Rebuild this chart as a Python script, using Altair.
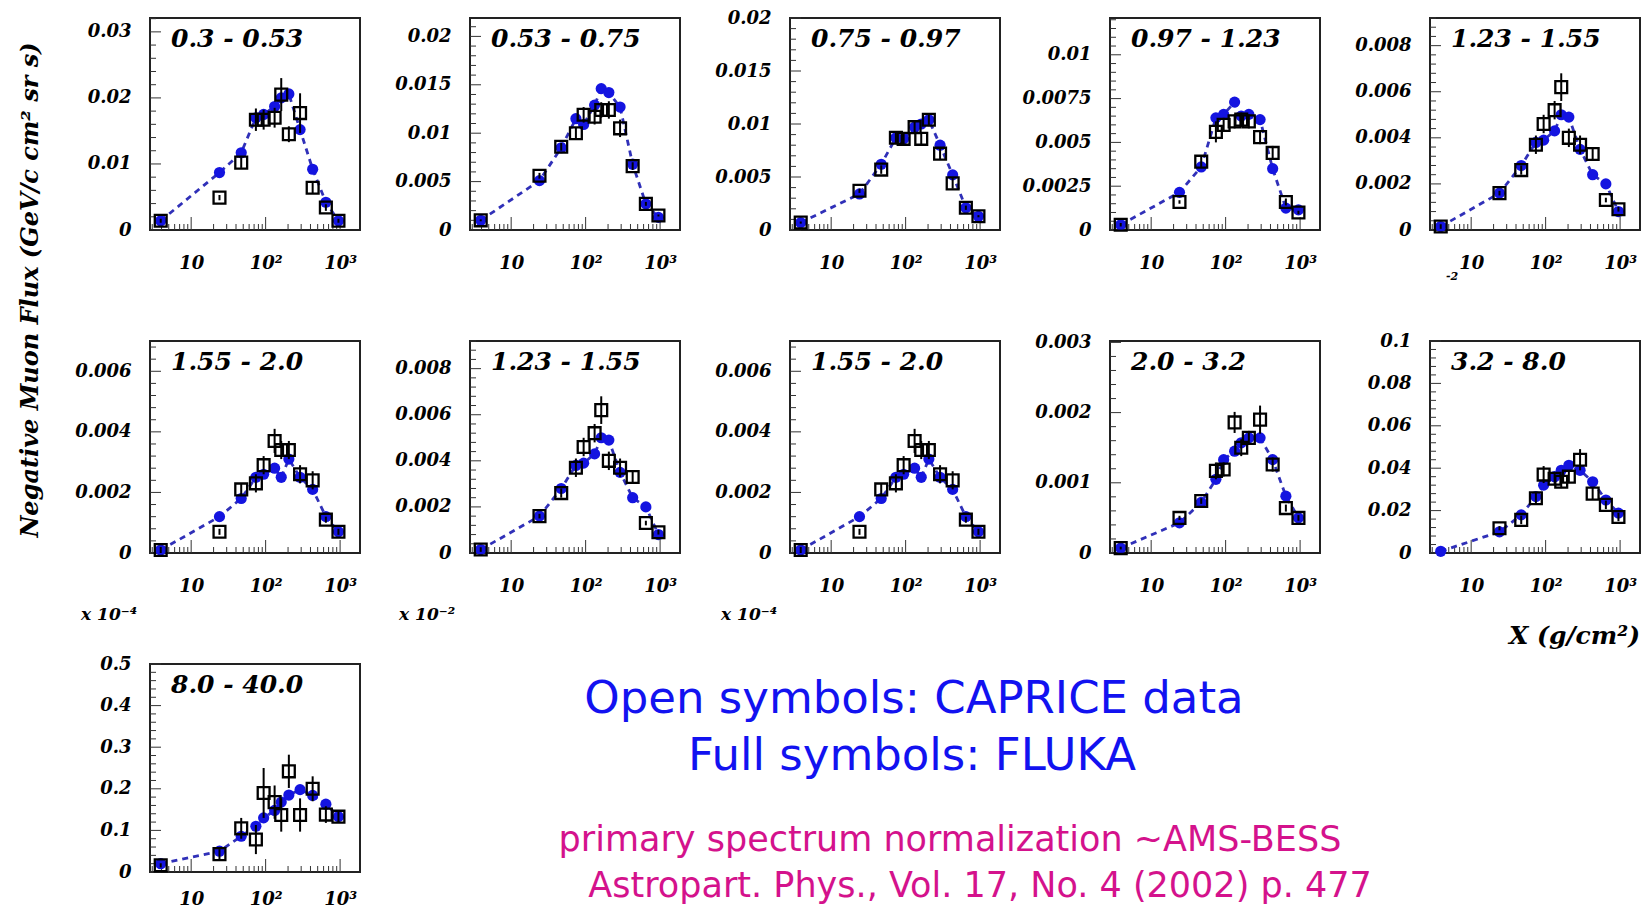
import altair as alt
import pandas as pd

# ---------------- data ----------------
X_GRID = [3.9, 24, 47, 74, 94, 132, 162, 205, 290, 428, 644, 950]

panel_labels = ["0.3 - 0.53", "0.53 - 0.75", "0.75 - 0.97", "0.97 - 1.23", "1.23 - 1.55",
                "1.55 - 2.0", "1.23 - 1.55", "1.55 - 2.0", "2.0 - 3.2", "3.2 - 8.0", "8.0 - 40.0"]
y_top = [0.0321, 0.0219, 0.0200, 0.0121, 0.0092, 0.0070, 0.0092, 0.0070, 0.00302, 0.100, 0.500]
y_step = [0.01, 0.005, 0.005, 0.0025, 0.002, 0.002, 0.002, 0.002, 0.001, 0.02, 0.1]

fluka_p1 = [0.0014, 0.0087, 0.0117, 0.0170, 0.0175, 0.0187, 0.0200, 0.0206, 0.0152, 0.0092, 0.0042, 0.0014]
caprice_p1 = [0.0014, 0.0049, 0.0102, 0.0167, 0.0167, 0.0170, 0.0205, 0.0145, 0.0177, 0.0064, 0.0034, 0.0014]
err_p1 = [0.0003, 0.0004, 0.0008, 0.0017, 0.0015, 0.0015, 0.0025, 0.0012, 0.0030, 0.0008, 0.0005, 0.0003]

fluka_p2 = [0.0010, 0.0051, 0.0085, 0.0115, 0.0109, 0.0129, 0.0146, 0.0142, 0.0127, 0.0068, 0.0027, 0.0013]
caprice_p2 = [0.0010, 0.0056, 0.0086, 0.0100, 0.0119, 0.0117, 0.0124, 0.0124, 0.0105, 0.0066, 0.0027, 0.0015]
err_p2 = [0.0001, 0.0003, 0.0004, 0.0006, 0.0008, 0.0008, 0.0008, 0.0009, 0.0009, 0.0004, 0.0002, 0.0001]

fluka_p3 = [0.0007, 0.0034, 0.0062, 0.0087, 0.0086, 0.0097, 0.0100, 0.0104, 0.0080, 0.0052, 0.0021, 0.0013]
caprice_p3 = [0.0007, 0.0037, 0.0057, 0.0087, 0.0086, 0.0097, 0.0086, 0.0104, 0.0072, 0.0044, 0.0021, 0.0013]
err_p3 = [0.0001, 0.0002, 0.0004, 0.0006, 0.0006, 0.0006, 0.0006, 0.0006, 0.0006, 0.0005, 0.0002, 0.0001]

fluka_p4 = [0.0003, 0.00215, 0.0036, 0.0064, 0.0066, 0.0073, 0.0065, 0.0066, 0.0063, 0.0035, 0.00125, 0.00115]
caprice_p4 = [0.0003, 0.0016, 0.0039, 0.0056, 0.0060, 0.0062, 0.0063, 0.0062, 0.0053, 0.0044, 0.0016, 0.0010]
err_p4 = [0.0001, 0.0001, 0.0003, 0.0006, 0.0004, 0.0004, 0.0004, 0.0004, 0.0004, 0.0004, 0.0002, 0.0001]

fluka_p5 = [0.00015, 0.0016, 0.0028, 0.0038, 0.0039, 0.0043, 0.0050, 0.0049, 0.0035, 0.0024, 0.0020, 0.0008]
caprice_p5 = [0.00015, 0.0016, 0.0026, 0.0037, 0.0046, 0.0052, 0.0062, 0.0040, 0.0037, 0.0033, 0.0013, 0.0009]
err_p5 = [0.0001, 0.0001, 0.0002, 0.0004, 0.0004, 0.0004, 0.0006, 0.0004, 0.0004, 0.0003, 0.0001, 0.0001]

fluka_p6 = [0.0001, 0.0012, 0.0018, 0.0025, 0.0026, 0.0028, 0.0025, 0.0031, 0.0025, 0.0021, 0.0012, 0.0007]
caprice_p6 = [0.0001, 0.0007, 0.0021, 0.0023, 0.0029, 0.0037, 0.0034, 0.0034, 0.0026, 0.0024, 0.0011, 0.0007]
err_p6 = [0.0001, 0.0001, 0.0002, 0.0003, 0.0003, 0.0004, 0.0003, 0.0003, 0.0003, 0.0003, 0.0001, 0.0001]

fluka_p9 = [0.00007, 0.00043, 0.00072, 0.00105, 0.00133, 0.00145, 0.00157, 0.00164, 0.00164, 0.00133, 0.00081, 0.0005]
caprice_p9 = [0.00007, 0.0005, 0.00074, 0.00117, 0.00119, 0.00186, 0.0015, 0.00164, 0.0019, 0.00126, 0.00064, 0.0005]
err_p9 = [0.00002, 0.00003, 0.00004, 0.00012, 0.0001, 0.00015, 0.00012, 0.0001, 0.0002, 0.0001, 0.00005, 0.00004]

fluka_p10 = [0.0008, 0.010, 0.018, 0.0266, 0.032, 0.036, 0.039, 0.0414, 0.039, 0.0336, 0.025, 0.0188]
caprice_p10 = [None, 0.0117, 0.0156, 0.0258, 0.037, 0.035, 0.0336, 0.036, 0.044, 0.028, 0.0227, 0.017]
err_p10 = [0.0, 0.001, 0.002, 0.003, 0.004, 0.003, 0.003, 0.003, 0.005, 0.003, 0.002, 0.002]

fluka_p11 = [0.02, 0.05, 0.086, 0.11, 0.13, 0.148, 0.168, 0.185, 0.198, 0.184, 0.163, 0.133]
caprice_p11 = [0.016, 0.043, 0.105, 0.078, 0.19, 0.168, 0.137, 0.242, 0.137, 0.2, 0.138, 0.133]
err_p11 = [0.005, 0.012, 0.025, 0.035, 0.06, 0.04, 0.04, 0.04, 0.04, 0.03, 0.02, 0.015]

# ---------------- styling ----------------
FONT_AX = "DejaVu Serif"
FONT_NOTE = "DejaVu Sans"
BLUE_PT = "#1414e0"
BLUE_LINE = "#3030b8"
BLUE_TXT = "#1212f0"
PINK_TXT = "#d4128c"
W, H = 210, 212

X_DOMAIN = [2.8, 1850]
x_major = [10, 100, 1000]
x_minor = [m * 10 ** k for k in range(0, 4) for m in range(2, 10) if X_DOMAIN[0] <= m * 10 ** k <= X_DOMAIN[1]]


def text_layer(t, x, y, size, color="black", font=FONT_AX, align="left",
               angle=0, weight="bold", style="italic", baseline="alphabetic"):
    kw = dict(align=align, baseline=baseline, font=font, fontSize=size,
              fontWeight=weight, fontStyle=style, color=color)
    if angle:
        kw["angle"] = angle
    return alt.Chart(pd.DataFrame({"t": [t]})).mark_text(**kw).encode(
        text="t:N", x=alt.value(x), y=alt.value(y))


def make_panel(idx, fluka, caprice, err, h=H, extras=(), xlabel_pad=24):
    top = y_top[idx]
    step = y_step[idx]
    df = pd.DataFrame({"X": X_GRID, "fluka": fluka, "caprice": caprice, "err": err})
    df["caprice"] = df["caprice"].astype(float)
    df["lo"] = df["caprice"] - df["err"]
    df["hi"] = df["caprice"] + df["err"]

    xs = alt.Scale(type="log", domain=X_DOMAIN, nice=False)
    ys = alt.Scale(domain=[0, top], nice=False, zero=False)
    nmaj = int(top / step + 0.05)
    y_major = [round(k * step, 8) for k in range(nmaj + 1)]
    y_minor = [round(k * step / 5, 9) for k in range(1, nmaj * 5 + 6)
               if k % 5 != 0 and k * step / 5 <= top * 1.0001]

    lab = dict(labelFont=FONT_AX, labelFontWeight="bold", labelFontStyle="italic",
               labelColor="black", labelFlush=False, labelOverlap=False,
               tickSize=0, domain=False, grid=False, title=None)
    x_axis = alt.Axis(values=x_major, labelFontSize=18, labelPadding=xlabel_pad,
                      labelExpr="datum.value == 10 ? '10' : (datum.value == 100 ? '10²' : '10³')", **lab)
    y_axis = alt.Axis(values=y_major, labelFontSize=18, labelPadding=19,
                      labelExpr="format(datum.value, '~g')", **lab)

    X = alt.X("X:Q", scale=xs, axis=x_axis)
    base = alt.Chart(df)
    line = base.mark_line(color=BLUE_LINE, strokeWidth=2.8, strokeDash=[6, 5]).encode(
        x=X, y=alt.Y("fluka:Q", scale=ys, axis=y_axis))
    circles = base.mark_circle(size=125, color=BLUE_PT, opacity=1).encode(
        x=X, y=alt.Y("fluka:Q", scale=ys, axis=y_axis))
    bars = base.mark_rule(color="black", strokeWidth=2).encode(
        x=X, y=alt.Y("lo:Q", scale=ys, axis=y_axis), y2="hi:Q")
    squares = base.mark_point(shape="square", filled=False, size=140, color="black",
                              strokeWidth=2.3, opacity=1).encode(
        x=X, y=alt.Y("caprice:Q", scale=ys, axis=y_axis))

    def xticks(vals, length):
        return alt.Chart(pd.DataFrame({"X": vals})).mark_rule(color="#333333", strokeWidth=1).encode(
            x=X, y=alt.value(h), y2=alt.value(h - length))

    def yticks(vals, length):
        return alt.Chart(pd.DataFrame({"v": vals})).mark_rule(color="#333333", strokeWidth=1).encode(
            y=alt.Y("v:Q", scale=ys, axis=y_axis), x=alt.value(0), x2=alt.value(length))

    layers = [xticks(x_major, 13), xticks(x_minor, 6), yticks(y_major, 11), yticks(y_minor, 6),
              line, circles, bars, squares,
              text_layer(panel_labels[idx], 21, 29, 25)]
    layers += list(extras)
    return alt.layer(*layers).properties(width=W, height=h)


p1 = make_panel(0, fluka_p1, caprice_p1, err_p1, extras=[
    text_layer("Negative Muon Flux (GeV/c cm² sr s)", -119, 272, 24, align="center",
               angle=270, baseline="middle")])
p2 = make_panel(1, fluka_p2, caprice_p2, err_p2)
p3 = make_panel(2, fluka_p3, caprice_p3, err_p3)
p4 = make_panel(3, fluka_p4, caprice_p4, err_p4)
p5 = make_panel(4, fluka_p5, caprice_p5, err_p5, extras=[text_layer("-2", 16, 262, 11)])
p6 = make_panel(5, fluka_p6, caprice_p6, err_p6, extras=[text_layer("x 10⁻⁴", -69, 279, 17)])
p7 = make_panel(6, fluka_p5, caprice_p5, err_p5, extras=[text_layer("x 10⁻²", -71, 279, 17)])
p8 = make_panel(7, fluka_p6, caprice_p6, err_p6, extras=[text_layer("x 10⁻⁴", -69, 279, 17)])
p9 = make_panel(8, fluka_p9, caprice_p9, err_p9)
p10 = make_panel(9, fluka_p10, caprice_p10, err_p10, extras=[
    text_layer("X (g/cm²)", 210, 303, 25, align="right")])
p11 = make_panel(10, fluka_p11, caprice_p11, err_p11, h=208, xlabel_pad=18, extras=[
    text_layer("Open symbols: CAPRICE  data", 764, 49, 45, color=BLUE_TXT, font=FONT_NOTE,
               align="center", weight="normal", style="normal"),
    text_layer("Full symbols: FLUKA", 762, 106, 45, color=BLUE_TXT, font=FONT_NOTE,
               align="center", weight="normal", style="normal"),
    text_layer("primary spectrum normalization ~AMS-BESS", 800, 187, 35, color=PINK_TXT,
               font=FONT_NOTE, align="center", weight="normal", style="normal"),
    text_layer("Astropart. Phys., Vol. 17, No. 4 (2002) p. 477", 830, 233, 35, color=PINK_TXT,
               font=FONT_NOTE, align="center", weight="normal", style="normal"),
])

chart = alt.concat(p1, p2, p3, p4, p5, p6, p7, p8, p9, p10, p11, columns=5,
                   spacing={"row": 111, "column": 110}, bounds="flush").properties(
    padding={"left": 10, "top": 0, "right": 0, "bottom": 0},
    background="white",
).configure_view(stroke="#222222", strokeWidth=2)

chart.save("out.html", embed_options={"renderer": "svg", "actions": False})
